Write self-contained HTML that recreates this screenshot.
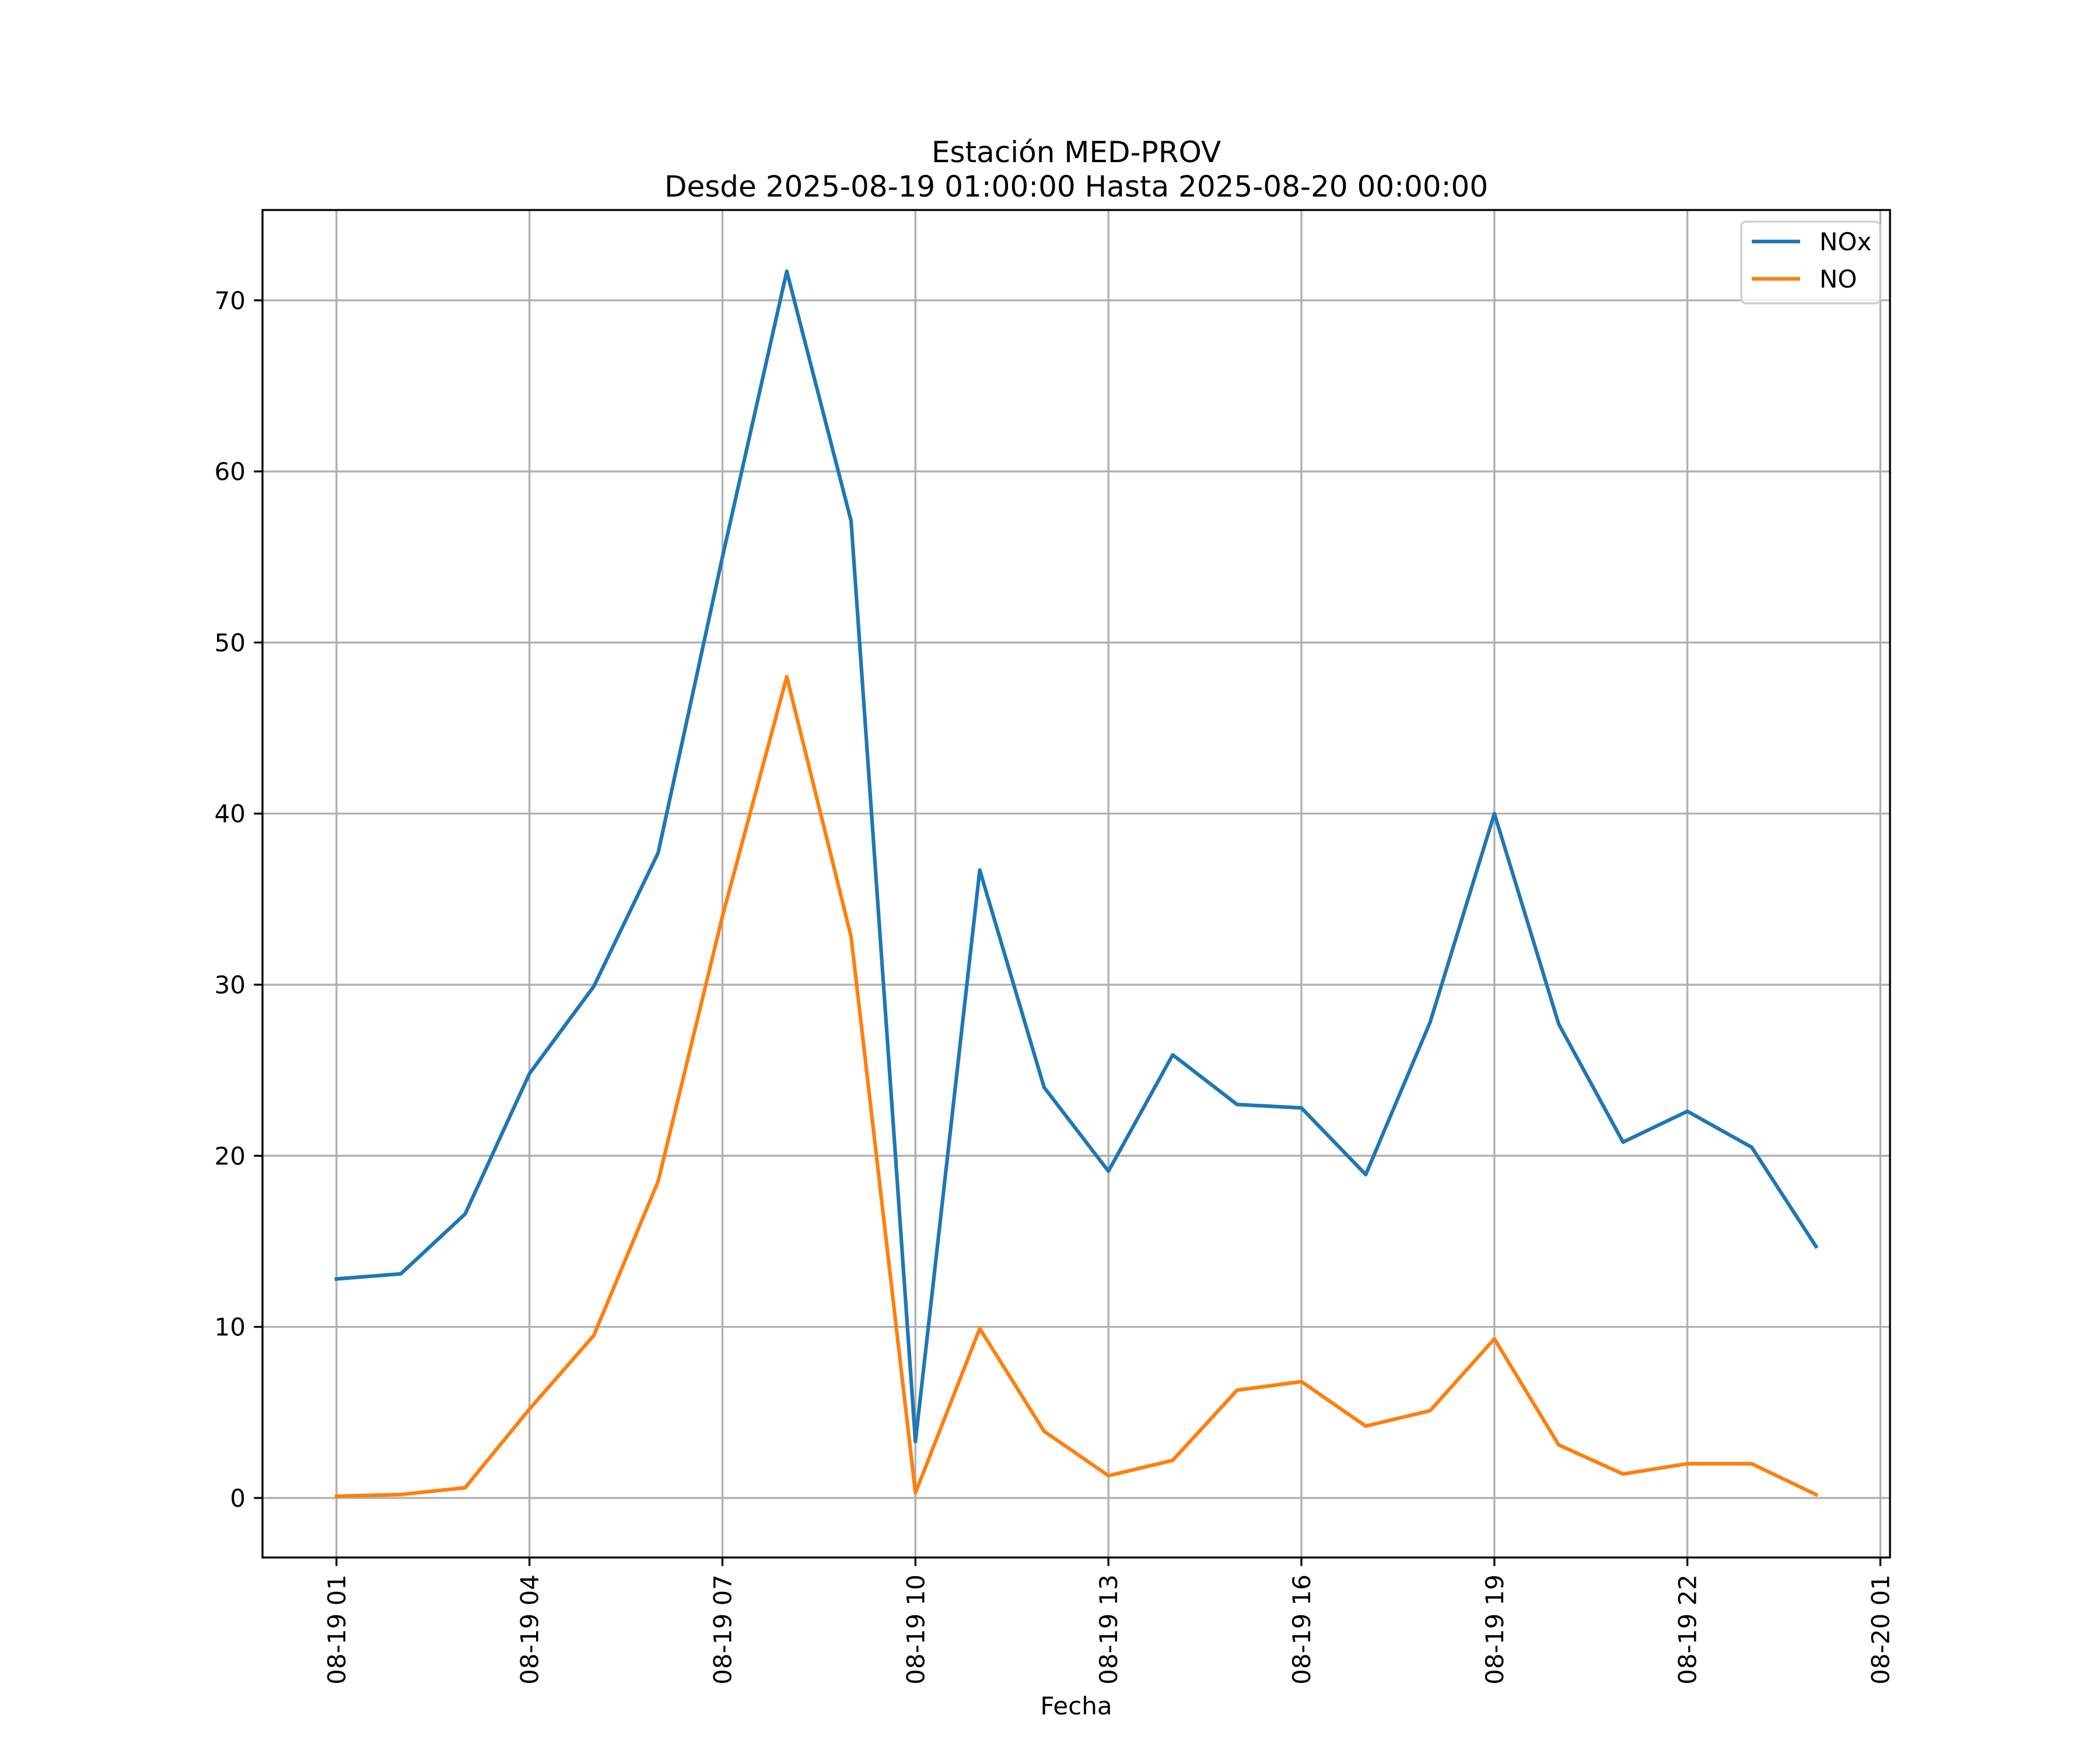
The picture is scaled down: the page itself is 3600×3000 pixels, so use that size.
<!DOCTYPE html>
<html><head><meta charset="utf-8"><style>
html,body{margin:0;padding:0;background:#fff}
svg{display:block;font-family:"DejaVu Sans","Liberation Sans",sans-serif}
</style></head><body>
<svg id="chart" width="3600" height="3000" viewBox="0 0 3600 3000">
<rect width="3600" height="3000" fill="#fff"/>
<g id="grid"></g>
<g id="series"></g>
<rect x="450" y="360" width="2790" height="2310" fill="none" stroke="#000" stroke-width="3.33"/>
<g id="ticks"></g>
<text x="1845" y="278" font-size="50" text-anchor="middle">Estación MED-PROV</text>
<text x="1845" y="337" font-size="50" text-anchor="middle">Desde 2025-08-19 01:00:00 Hasta 2025-08-20 00:00:00</text>
<text x="1845" y="2939" font-size="42" text-anchor="middle">Fecha</text>
<g>
<rect x="2985" y="380" width="238" height="140" rx="8" fill="#fff" fill-opacity="0.8" stroke="#ccc" stroke-width="3.33"/>
<line x1="3003" y1="414" x2="3086" y2="414" stroke="#1f77b4" stroke-width="6.25"/>
<text x="3119" y="429" font-size="42">NOx</text>
<line x1="3003" y1="478" x2="3086" y2="478" stroke="#ff7f0e" stroke-width="6.25"/>
<text x="3119" y="493" font-size="42">NO</text>
</g>
</svg>
<script>
const hours = [1,2,3,4,5,6,7,8,9,10,11,12,13,14,15,16,17,18,19,20,21,22,23,24];
const noxValues = [12.8,13.1,16.6,24.8,29.9,37.7,55.0,71.7,57.1,3.3,36.7,24.0,19.1,25.9,23.0,22.8,18.9,27.8,40.0,27.7,20.8,22.6,20.5,14.7];
const noValues = [0.1,0.2,0.6,5.2,9.5,18.5,34.0,48.0,32.8,0.3,9.9,3.9,1.3,2.2,6.3,6.8,4.2,5.1,9.3,3.1,1.4,2.0,2.0,0.2];
const xTickHours = [1,4,7,10,13,16,19,22,25];
const xTickLabels = ["08-19 01","08-19 04","08-19 07","08-19 10","08-19 13","08-19 16","08-19 19","08-19 22","08-20 01"];
const yTicks = [0,10,20,30,40,50,60,70];

const NS="http://www.w3.org/2000/svg";
const L=450,R=3240,T=360,B=2670;
const allV=noxValues.concat(noValues);
const hMin=Math.min(...hours),hMax=Math.max(...hours),hr=hMax-hMin;
const x0=hMin-0.05*hr,x1=hMax+0.05*hr;
const vMin=Math.min(...allV),vMax=Math.max(...allV),vr=vMax-vMin;
const y0=vMin-0.05*vr,y1=vMax+0.05*vr;
const sx=h=>L+(h-x0)/(x1-x0)*(R-L);
const sy=v=>B-(v-y0)/(y1-y0)*(B-T);
function mk(tag,attrs,parent){const e=document.createElementNS(NS,tag);for(const k in attrs)e.setAttribute(k,attrs[k]);parent.appendChild(e);return e;}
const grid=document.getElementById('grid'),ticks=document.getElementById('ticks'),series=document.getElementById('series');
xTickHours.forEach((h,i)=>{
  const x=sx(h);
  const g=mk('line',{x1:x,x2:x,y1:T,y2:B,stroke:'#b0b0b0','stroke-width':3.33},grid);
  
  
  const t=mk('line',{x1:x,x2:x,y1:B,y2:B+14.6,stroke:'#000','stroke-width':3.33},ticks);
  
  
  const lb=mk('text',{x:0,y:0,'font-size':42,'text-anchor':'end',transform:`translate(${x+15},${B+29}) rotate(-90)`},ticks);
  lb.textContent=xTickLabels[i];
  
  
});
yTicks.forEach(v=>{
  const y=sy(v);
  const g=mk('line',{x1:L,x2:R,y1:y,y2:y,stroke:'#b0b0b0','stroke-width':3.33},grid);
  
  
  const t=mk('line',{x1:L-14.6,x2:L,y1:y,y2:y,stroke:'#000','stroke-width':3.33},ticks);
  
  
  const lb=mk('text',{x:L-29,y:y+15,'font-size':42,'text-anchor':'end'},ticks);
  lb.textContent=String(v);
  
  
});
function drawLine(vals,color,name){
  const pts=vals.map((v,i)=>sx(hours[i]).toFixed(2)+','+sy(v).toFixed(2)).join(' ');
  const p=mk('polyline',{points:pts,fill:'none',stroke:color,'stroke-width':6.25,'stroke-linejoin':'round','stroke-linecap':'square'},series);
  
  
}
drawLine(noxValues,'#1f77b4','nox-line');
drawLine(noValues,'#ff7f0e','no-line');
</script>
</body></html>
